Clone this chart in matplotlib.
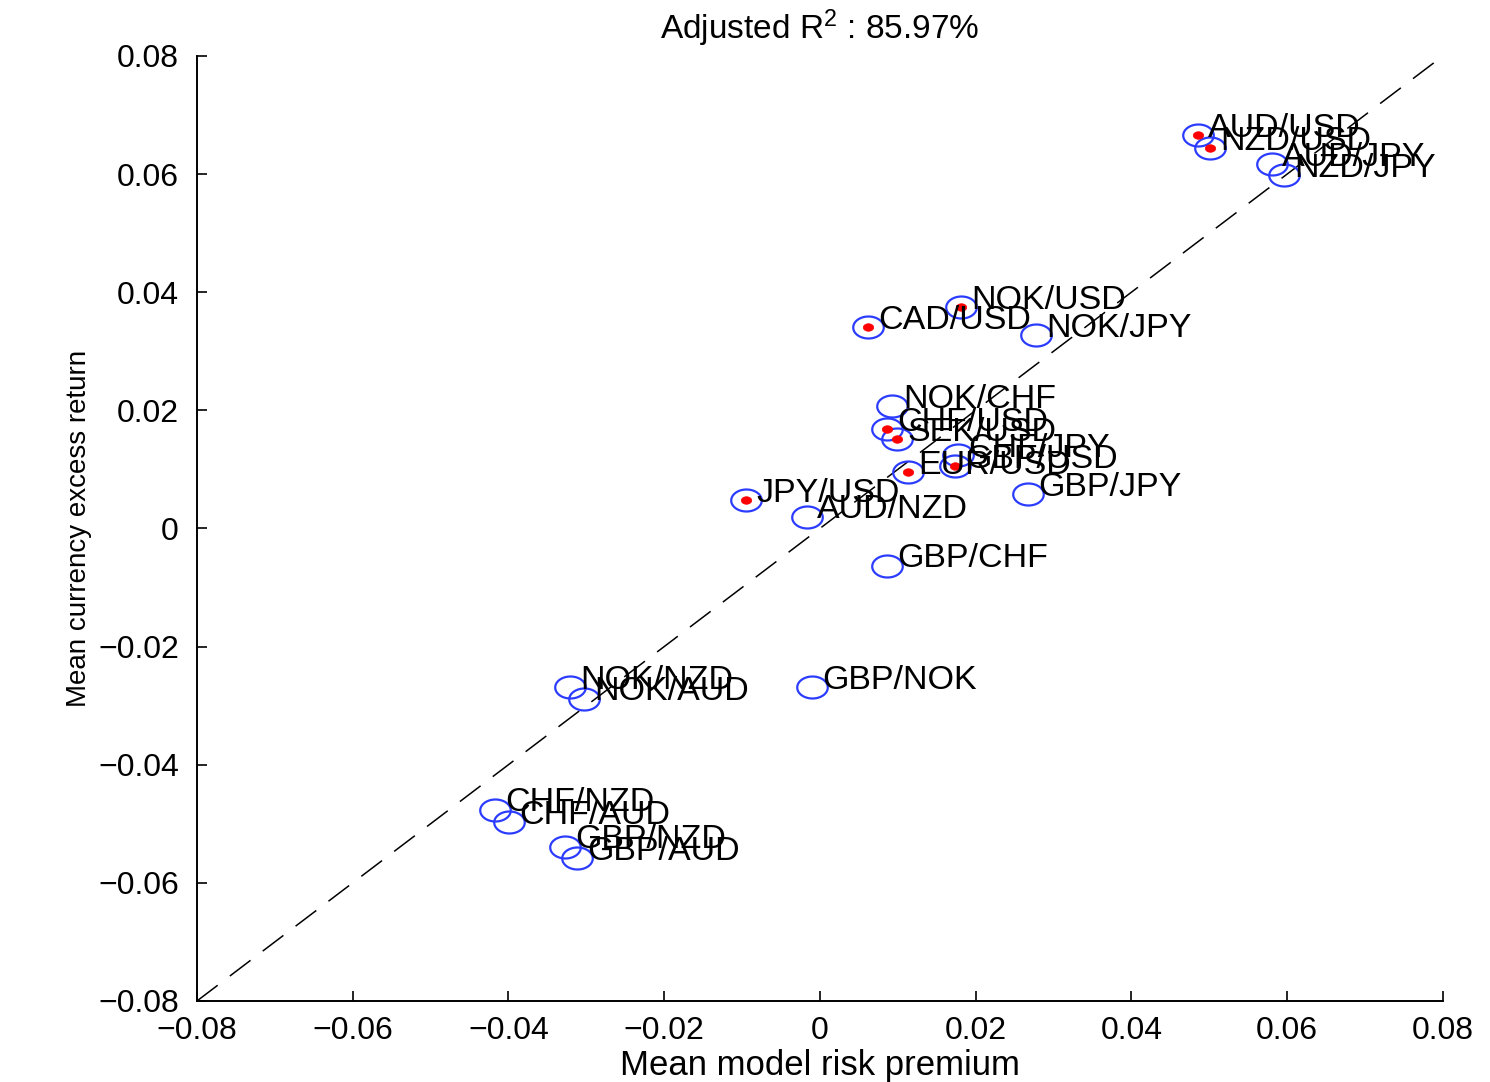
import matplotlib
matplotlib.use('Agg')
import matplotlib.pyplot as plt
import numpy as np
from matplotlib.path import Path

plt.rcParams['font.family'] = ['Liberation Sans', 'DejaVu Sans']
plt.rcParams['mathtext.fontset'] = 'custom'
plt.rcParams['mathtext.rm'] = 'Liberation Sans'
plt.rcParams['mathtext.it'] = 'Liberation Sans'

pairs = ['AUD/USD', 'NZD/USD', 'AUD/JPY', 'NZD/JPY', 'NOK/USD', 'CAD/USD', 'NOK/JPY',
         'NOK/CHF', 'CHF/USD', 'SEK/USD', 'CHF/JPY', 'GBP/USD', 'EUR/USD', 'GBP/JPY',
         'JPY/USD', 'AUD/NZD', 'GBP/CHF', 'NOK/NZD', 'NOK/AUD', 'GBP/NOK',
         'CHF/NZD', 'CHF/AUD', 'GBP/NZD', 'GBP/AUD']
model_premium = [0.0485, 0.0501, 0.0580, 0.0596, 0.0181, 0.0062, 0.0277,
                 0.0093, 0.0086, 0.0099, 0.0177, 0.0173, 0.0113, 0.0267,
                 -0.0095, -0.0017, 0.0086, -0.0321, -0.0303, -0.0010,
                 -0.0417, -0.0399, -0.0327, -0.0312]
excess_return = [0.0666, 0.0644, 0.0617, 0.0598, 0.0375, 0.0341, 0.0327,
                 0.0207, 0.0168, 0.0151, 0.0124, 0.0105, 0.0095, 0.0058,
                 0.0048, 0.0020, -0.0063, -0.0269, -0.0288, -0.0269,
                 -0.0476, -0.0497, -0.0539, -0.0558]
usd_dot = [True, True, False, False, True, True, False,
           False, True, True, False, True, True, False,
           True, False, False, False, False, False,
           False, False, False, False]
ticks = [-0.08, -0.06, -0.04, -0.02, 0, 0.02, 0.04, 0.06, 0.08]
tick_labels = ['\u22120.08', '\u22120.06', '\u22120.04', '\u22120.02', '0',
               '0.02', '0.04', '0.06', '0.08']
title_text = r'Adjusted R$^{2}$ : 85.97%'

# ellipse marker (figure was horizontally stretched)
t = np.linspace(0, 2 * np.pi, 60)
ell = Path(np.column_stack([np.cos(t), 0.72 * np.sin(t)]), closed=True)

fig = plt.figure(figsize=(14.9, 10.82), dpi=100)
ax = fig.add_axes([0.1322, 0.0749, 0.8362, 0.8734])

x = np.array(model_premium)
y = np.array(excess_return)
dots = np.array(usd_dot)

ax.plot([-0.08, 0.08], [-0.08, 0.08], color='black', lw=1.1,
        linestyle=(0, (17, 10)), zorder=1)
ax.plot(x, y, linestyle='none', marker=ell, markersize=22,
        markerfacecolor='none', markeredgecolor='#2b3cff', markeredgewidth=1.6, zorder=2)
ax.plot(x[dots], y[dots], linestyle='none', marker=ell, markersize=7.5,
        markerfacecolor='#ff0000', markeredgecolor='#ff0000', markeredgewidth=0.5, zorder=3)

for xi, yi, lab in zip(x, y, pairs):
    ax.annotate(lab, (xi, yi), xytext=(7.5, 5), textcoords='offset points',
                ha='left', va='center', fontsize=24.5, color='black', zorder=4)

ax.set_xlim(-0.08, 0.08)
ax.set_ylim(-0.08, 0.08)
ax.set_xticks(ticks)
ax.set_xticklabels(tick_labels)
ax.set_yticks(ticks)
ax.set_yticklabels(tick_labels)
ax.tick_params(direction='in', length=7, width=1.2, labelsize=23, pad=11)
ax.tick_params(axis='y', pad=13)
for s in ['top', 'right']:
    ax.spines[s].set_visible(False)
for s in ['left', 'bottom']:
    ax.spines[s].set_linewidth(1.4)

ax.set_xlabel('Mean model risk premium', fontsize=25, labelpad=2)
ax.set_ylabel('Mean currency excess return', fontsize=20, labelpad=4)
ax.set_title(title_text, fontsize=24, pad=12)

fig.savefig('out.png', dpi=100)
